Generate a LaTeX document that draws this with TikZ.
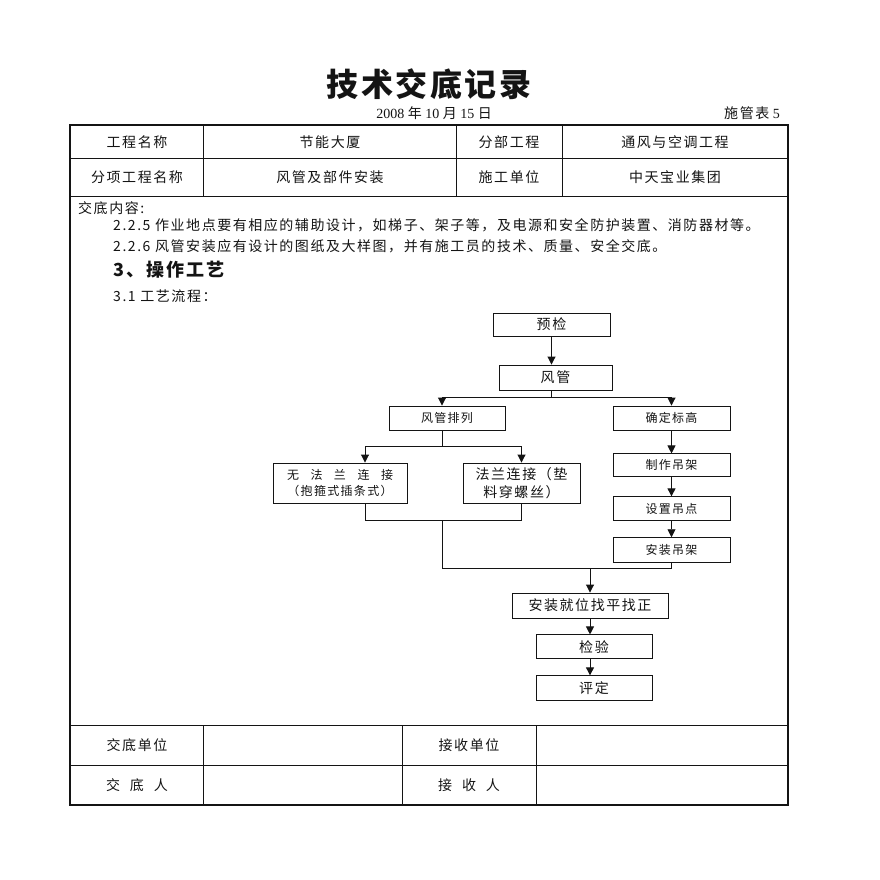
\documentclass[tikz,border=0pt]{standalone}
\usepackage{fontspec}
\setmainfont{Liberation Serif}
\newfontfamily\cjk[LetterSpace=11]{Noto Sans CJK SC}
\newfontfamily\cjktitle[LetterSpace=8]{Noto Sans CJK SC}
\usetikzlibrary{positioning, arrows.meta}
\definecolor{FormBlack}{gray}{0.08}
\newcommand{\bodysize}{\fontsize{14pt}{16pt}\selectfont}
\newcommand{\boxsize}{\fontsize{12pt}{14pt}\selectfont}

\begin{document}
\begin{tikzpicture}[x = 1pt, y = -1pt]%
    %
    \tikzstyle{arrow} = [-{Triangle[length = 8pt, width = 8pt]}, draw = FormBlack, line width = 0.9pt]%
    \tikzstyle{line} = [draw = FormBlack, line width = 0.9pt]%
    \tikzstyle{grid} = [draw = FormBlack, line width = 0.9pt]%
    \tikzstyle{frame} = [draw = FormBlack, line width = 2.2pt]%
    \tikzstyle{cell} = [inner sep = 0pt, text = FormBlack, font = \bodysize\cjk]%
    \tikzstyle{para} = [cell, anchor = west]%
    \tikzstyle{block} = [rectangle, draw = FormBlack, line width = 0.9pt, text = FormBlack, font = \bodysize\cjk, inner sep = 0pt, minimum width = 116pt, minimum height = 24pt]%
    \tikzstyle{smallblock} = [block, font = \boxsize\cjk]%
    %
    \fill [white] (0, 0) rectangle (880, 880);%
    \useasboundingbox (0, 0) rectangle (880, 880);%
    %
    % heading
    \node [cell, font = \fontsize{32pt}{34pt}\selectfont\cjktitle\bfseries] (title) at (429, 84) {技术交底记录};%
    \node [cell, font = \bodysize] (date) at (434, 113) {2008 {\cjk 年} 10 {\cjk 月} 15 {\cjk 日}};%
    \node [cell, anchor = east, font = \bodysize] (sheet) at (780, 113) {{\cjk 施管表} 5};%
    %
    % form grid
    \draw [grid] (70, 158) -- (788, 158);%
    \draw [grid] (70, 196) -- (788, 196);%
    \draw [grid] (70, 725) -- (788, 725);%
    \draw [grid] (70, 765) -- (788, 765);%
    \draw [grid] (203, 125) -- (203, 196);%
    \draw [grid] (456, 125) -- (456, 196);%
    \draw [grid] (562, 125) -- (562, 196);%
    \draw [grid] (203, 725) -- (203, 805);%
    \draw [grid] (402, 725) -- (402, 805);%
    \draw [grid] (536, 725) -- (536, 805);%
    \draw [frame] (70, 125) rectangle (788, 805);%
    %
    \node [cell] (project-label) at (137, 142) {工程名称};%
    \node [cell] (project) at (330, 142) {节能大厦};%
    \node [cell] (part-label) at (509, 142) {分部工程};%
    \node [cell] (part) at (675, 142) {通风与空调工程};%
    \node [cell] (item-label) at (137, 177) {分项工程名称};%
    \node [cell] (item) at (330, 177) {风管及部件安装};%
    \node [cell] (unit-label) at (509, 177) {施工单位};%
    \node [cell] (unit) at (675, 177) {中天宝业集团};%
    %
    \node [para] (content-label) at (78, 208) {交底内容:};%
    \node [para] (clause-a) at (113, 225) {2.2.5 作业地点要有相应的辅助设计，如梯子、架子等，及电源和安全防护装置、消防器材等。};%
    \node [para] (clause-b) at (113, 246) {2.2.6 风管安装应有设计的图纸及大样图，并有施工员的技术、质量、安全交底。};%
    \node [para, font = \fontsize{18pt}{20pt}\selectfont\cjk\bfseries] (section) at (113, 270) {3、操作工艺};%
    \node [para] (flow-label) at (113, 296) {3.1 工艺流程：};%
    %
    % process flow
    \node [block, minimum width = 117pt, minimum height = 23pt] (yujian) at (551.5, 324.5) {预检};%
    \node [block, minimum width = 113pt, minimum height = 25pt] (fengguan) at (555.5, 377.5) {风管};%
    \node [smallblock] (pailie) at (447, 418) {风管排列};%
    \node [smallblock, minimum width = 117pt] (biaogao) at (671.5, 418) {确定标高};%
    \node [block, minimum width = 134pt, minimum height = 40pt, font = \boxsize\cjk, align = center] (wufalan) at (340, 483) {\makebox[106pt][s]{无\hfil 法\hfil 兰\hfil 连\hfil 接}\\[2pt]（抱箍式插条式）};%
    \node [block, minimum width = 117pt, minimum height = 40pt, align = center] (falan) at (521.5, 483) {法兰连接（垫\\[2pt]料穿螺丝）};%
    \node [smallblock, minimum width = 117pt, minimum height = 23pt, below = 23pt of biaogao] (zhizuo) {制作吊架};%
    \node [smallblock, minimum width = 117pt, below = 19pt of zhizuo] (shezhi) {设置吊点};%
    \node [smallblock, minimum width = 117pt, minimum height = 25pt, below = 16pt of shezhi] (anzhuang) {安装吊架};%
    \node [block, minimum width = 156pt, minimum height = 25pt] (jiuwei) at (590, 605.5) {安装就位找平找正};%
    \node [block, below = 16pt of jiuwei, xshift = 4pt] (jianyan) {检验};%
    \node [block, minimum height = 25pt, below = 16pt of jianyan] (pingding) {评定};%
    %
    \coordinate (fork-top) at (551.5, 397);%
    \coordinate (fork-left) at (442, 397);%
    \coordinate (fork-mid) at (442, 446);%
    \coordinate (wu-in) at (365, 446);%
    \coordinate (join-a) at (365, 520);%
    \coordinate (join-b) at (442, 520);%
    \coordinate (join-c) at (442, 568);%
    \coordinate (join-d) at (590, 568);%
    %
    \draw [arrow] (yujian.south) -- (yujian.south |- fengguan.north);%
    \draw [line] (fengguan.south -| fork-top) -- (fork-top);%
    \draw [arrow] (fork-top) -- (fork-left) -- (fork-left |- pailie.north);%
    \draw [arrow] (fork-top) -| (biaogao.north);%
    \draw [line] (pailie.south -| fork-mid) -- (fork-mid);%
    \draw [arrow] (fork-mid) -- (wu-in) -- (wu-in |- wufalan.north);%
    \draw [arrow] (fork-mid) -| (falan.north);%
    \draw [arrow] (biaogao) -- (zhizuo);%
    \draw [arrow] (zhizuo) -- (shezhi);%
    \draw [arrow] (shezhi) -- (anzhuang);%
    %
    \draw [line] (join-a |- wufalan.south) -- (join-a) -| (falan.south);%
    \draw [line] (join-b) -- (join-c) -| (anzhuang.south);%
    \draw [arrow] (join-d) -- (join-d |- jiuwei.north);%
    \draw [arrow] (jiuwei.south) -- (jiuwei.south |- jianyan.north);%
    \draw [arrow] (jianyan.south -| jiuwei.south) -- (jiuwei.south |- pingding.north);%
    %
    % sign-off rows
    \node [cell] (handover-unit) at (137, 745) {交底单位};%
    \node [cell] (receiver-unit) at (469, 745) {接收单位};%
    \node [cell] (handover-person) at (137, 785) {\makebox[62pt][s]{交\hfil 底\hfil 人}};%
    \node [cell] (receiver-person) at (469, 785) {\makebox[62pt][s]{接\hfil 收\hfil 人}};%
    %
\end{tikzpicture}
\end{document}
